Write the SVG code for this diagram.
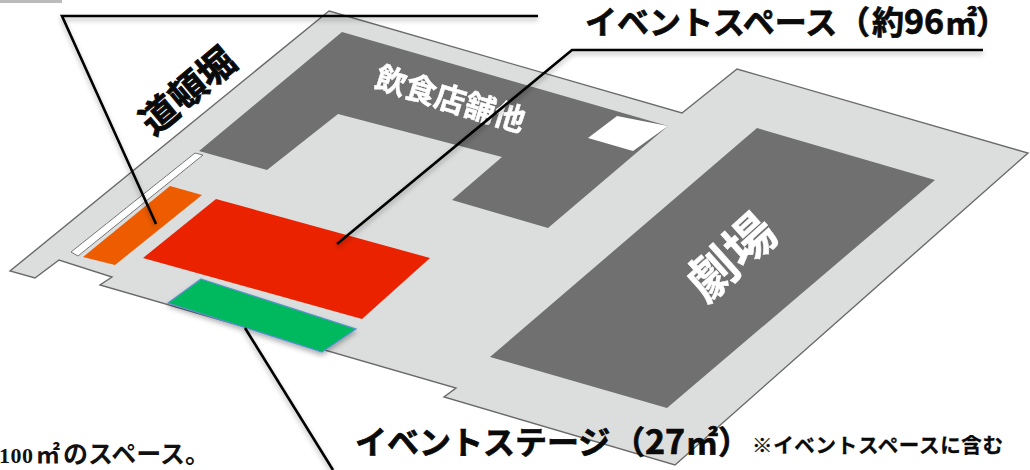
<svg xmlns="http://www.w3.org/2000/svg" width="1030" height="470" viewBox="0 0 1030 470">
<defs>
<filter id="soft" x="-5%" y="-5%" width="110%" height="110%"><feGaussianBlur stdDeviation="0.6"/></filter>
<filter id="shadow" x="-10%" y="-20%" width="120%" height="140%"><feDropShadow dx="0" dy="3" stdDeviation="2.5" flood-color="#000" flood-opacity="0.3"/></filter>
</defs>
<style>
.dark{fill:#707070}
.cap{font-family:"Noto Sans CJK JP","Noto Sans",sans-serif;font-weight:700;fill:#0a0a0a;stroke:#0a0a0a;stroke-width:.7}
.wt{font-family:"Noto Sans CJK JP","Noto Sans",sans-serif;font-weight:700;fill:#fff;stroke:#fff;stroke-width:.5}
.ln{fill:none;stroke:#000;stroke-width:2.6;stroke-linejoin:miter}
.serif{font-family:"Liberation Serif","Noto Sans CJK JP",serif;fill:#111}
</style>
<rect width="1030" height="470" fill="#fff"/>
<g id="floor" filter="url(#soft)">
<polygon points="329,11 682,113 737,69 1028,153 675,465 444,397 456,388 100,285 112,277 59,260 35,278 10,271" fill="#dcdddd" stroke="#6a6a6a" stroke-width="1.4"/>
<polygon points="195,153 203,155 78,256 71,252" fill="#fff" stroke="#777" stroke-width="1"/>
</g>
<g id="restaurants" filter="url(#soft)">
<polygon class="dark" points="342,32 668,126 548,228 452,200 502,157 338,114 267,170 199,151"/>
<polygon points="617,116 668,126 633,151 588,138" fill="#fff"/>
<text class="wt" font-size="31" transform="translate(373,87) rotate(17)">飲食店舗他</text>
</g>
<g id="theatre" filter="url(#soft)">
<polygon class="dark" points="757,128 935,180 667,408 490,357"/>
<text class="wt" font-size="50" transform="translate(706,304) rotate(-42)">劇場</text>
</g>
<g id="moat-label"><text class="cap" font-size="37" text-anchor="middle" transform="translate(188,91) rotate(-40)" y="13" style="stroke-width:.9">道頓堀</text></g>
<g id="orange-area" filter="url(#soft)"><polygon points="170,186 202,195 115,265 83,257" fill="#ee5c00"/></g>
<g id="event-space" filter="url(#soft)"><polygon points="216,199 430,258 362,319 143,258" fill="#ea2300"/></g>
<g id="event-stage" filter="url(#shadow)"><polygon points="201,279 356,329 322,352 168,303" fill="#00b95f" stroke="#5b8fd0" stroke-width="1.2"/></g>
<g id="connectors" filter="url(#shadow)">
<polyline class="ln" points="538,16 62,16 156,224"/>
<polyline class="ln" points="983,50 572,50 337,244"/>
<line class="ln" x1="245" y1="328" x2="333" y2="470"/>
</g>
<g id="labels">
<text class="cap" font-size="32" y="34"><tspan x="585">イベントスペース</tspan><tspan x="838">（</tspan><tspan x="872">約</tspan><tspan x="904" font-size="34">96</tspan><tspan x="945">㎡</tspan><tspan x="976">）</tspan></text>
<text class="cap" font-size="32" y="454"><tspan x="355">イベントステージ</tspan><tspan x="613">（</tspan><tspan x="645" font-size="34">27</tspan><tspan x="686">㎡</tspan><tspan x="718">）</tspan></text>
<text class="cap" font-size="20.5" x="752" y="453" style="stroke-width:.3" textLength="251">※イベントスペースに含む</text>
<text class="serif" y="463"><tspan x="-1" font-size="22" font-weight="700" letter-spacing=".5">100</tspan><tspan x="36" font-size="24" font-weight="700">㎡</tspan><tspan x="63" font-size="25" font-weight="700">のスペース。</tspan></text>
</g>
<rect id="corner-box" x="0" y="0" width="62" height="3" fill="#bbb"/>
</svg>
